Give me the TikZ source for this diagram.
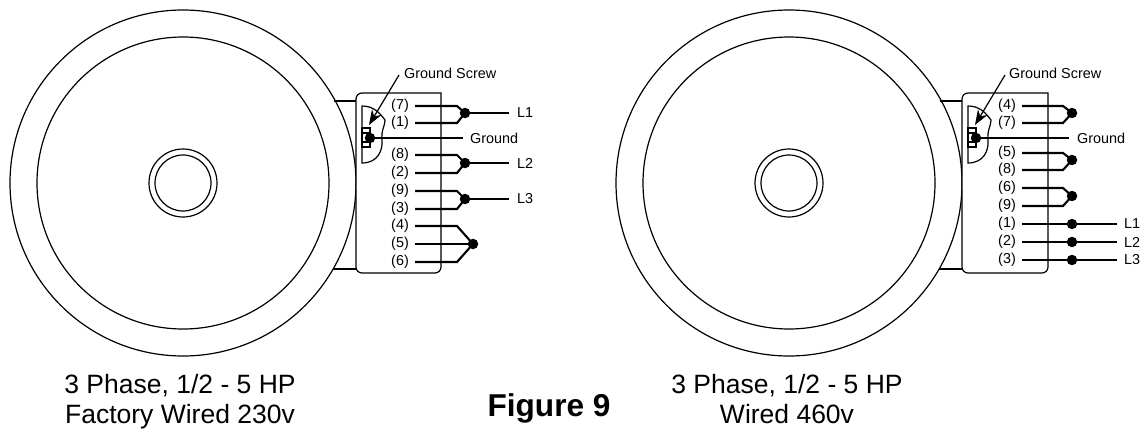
\documentclass[tikz,border=0pt]{standalone}
\usepackage{fontspec}
\setmainfont{Liberation Sans}
\usetikzlibrary{arrows.meta}
\begin{document}
\begin{tikzpicture}[x=1pt, y=-1pt,
    ring/.style={circle, draw=black, line width=1.2pt, inner sep=0pt},
    wire/.style={line width=2.1pt, black},
    thin line/.style={line width=1.2pt, black},
    dot/.style={circle, fill=black, inner sep=0pt, minimum size=10.5pt},
    num/.style={font=\fontsize{14.4}{16}\selectfont, anchor=east, inner sep=0pt},
    lab/.style={font=\fontsize{14.4}{16}\selectfont, anchor=west, inner sep=0pt},
    caption/.style={font=\fontsize{26.5}{30}\selectfont, align=center, inner sep=0pt}]
      \useasboundingbox (0,0) rectangle (1145,429);

      % left motor
      \node[ring, minimum size=346pt] (outerL) at (183,183) {};
      \node[ring, minimum size=292pt] (innerL) at (183,183) {};
      \node[ring, minimum size=68pt] (hubL) at (183,183) {};
      \node[ring, minimum size=56pt] (shaftL) at (183,183) {};

      \draw[thin line] (334,101) -- (356,101);
      \draw[thin line] (333,269) -- (356,269);
      \draw[thin line, fill=white] (441,93) [rounded corners=6pt] -- (356,93) -- (356,273) -- (441,273) [sharp corners] -- cycle;

      \draw[thin line] (362,106) .. controls (373,106) and (379,112) .. (385,120) .. controls (385,126) and (381,130) .. (382,140) .. controls (383,150) and (378,163) .. (362,163) -- cycle;
      \draw[thin line] (362,128) rectangle (370,147);
      \draw[thin line] (362,133) -- (370,133);
      \draw[thin line] (362,142) -- (370,142);

      \node[lab] (screwL) at (404,73) {Ground Screw};
      \node[lab] (gndL) at (470,138) {Ground};
      \node[dot] (g0L) at (370,138) {};
      \coordinate (g1L) at (463,138);
      \coordinate (a0L) at (399,75);
      \coordinate (a1L) at (369,125);
      \draw[thin line, -{Stealth[length=15pt, width=11pt]}] (a0L) -- (a1L);
      \draw[wire] (g0L) -- (g1L);

      \node[num] (n7L) at (409,106) {(7)};
      \node[num] (n1L) at (409,123) {(1)};
      \node[num] (n8L) at (409,155) {(8)};
      \node[num] (n2L) at (409,173) {(2)};
      \node[num] (n9L) at (409,191) {(9)};
      \node[num] (n3L) at (409,209) {(3)};
      \node[num] (n4L) at (409,226) {(4)};
      \node[num] (n5L) at (409,244) {(5)};
      \node[num] (n6L) at (409,262) {(6)};

      \node[dot] (d1L) at (465,113) {};
      \node[dot] (d2L) at (465,163) {};
      \node[dot] (d3L) at (465,199) {};
      \node[dot] (d4L) at (473,244) {};
      \node[lab] (l1L) at (517,113) {L1};
      \node[lab] (l2L) at (517,163) {L2};
      \node[lab] (l3L) at (517,199) {L3};

      \draw[wire] ([xshift=6pt]n7L.east) -- (457,106) -- (d1L.center);
      \draw[wire] ([xshift=6pt]n1L.east) -- (457,123) -- (d1L.center);
      \draw[wire] ([xshift=6pt]n8L.east) -- (457,155) -- (d2L.center);
      \draw[wire] ([xshift=6pt]n2L.east) -- (457,173) -- (d2L.center);
      \draw[wire] ([xshift=6pt]n9L.east) -- (457,191) -- (d3L.center);
      \draw[wire] ([xshift=6pt]n3L.east) -- (457,209) -- (d3L.center);
      \draw[wire] ([xshift=6pt]n4L.east) -- (457,226) -- (d4L.center);
      \draw[wire] ([xshift=6pt]n5L.east) -- (d4L.center);
      \draw[wire] ([xshift=6pt]n6L.east) -- (457,262) -- (d4L.center);
      \draw[wire] (d1L) -- ([xshift=-8pt]l1L.west);
      \draw[wire] (d2L) -- ([xshift=-8pt]l2L.west);
      \draw[wire] (d3L) -- ([xshift=-8pt]l3L.west);

      \node[caption] (capL) at (180,402) {3 Phase, 1/2 - 5 HP\\Factory Wired 230v};

      % right motor
      \node[ring, minimum size=346pt] (outerR) at (789,183) {};
      \node[ring, minimum size=292pt] (innerR) at (789,183) {};
      \node[ring, minimum size=68pt] (hubR) at (789,183) {};
      \node[ring, minimum size=56pt] (shaftR) at (789,183) {};

      \draw[thin line] (940,101) -- (962,101);
      \draw[thin line] (939,269) -- (962,269);
      \draw[thin line, fill=white] (1048,93) [rounded corners=6pt] -- (962,93) -- (962,273) -- (1048,273) [sharp corners] -- cycle;

      \draw[thin line] (968,106) .. controls (979,106) and (985,112) .. (991,120) .. controls (991,126) and (987,130) .. (988,140) .. controls (989,150) and (984,163) .. (968,163) -- cycle;
      \draw[thin line] (968,128) rectangle (976,147);
      \draw[thin line] (968,133) -- (976,133);
      \draw[thin line] (968,142) -- (976,142);

      \node[lab] (screwR) at (1009,73) {Ground Screw};
      \node[lab] (gndR) at (1077,138) {Ground};
      \node[dot] (g0R) at (976,138) {};
      \coordinate (g1R) at (1069,138);
      \coordinate (a0R) at (1005,75);
      \coordinate (a1R) at (975,125);
      \draw[thin line, -{Stealth[length=15pt, width=11pt]}] (a0R) -- (a1R);
      \draw[wire] (g0R) -- (g1R);

      \node[num] (n4R) at (1016,106) {(4)};
      \node[num] (n7R) at (1016,123) {(7)};
      \node[num] (n5R) at (1016,153) {(5)};
      \node[num] (n8R) at (1016,170) {(8)};
      \node[num] (n6R) at (1016,188) {(6)};
      \node[num] (n9R) at (1016,206) {(9)};
      \node[num] (n1R) at (1016,224) {(1)};
      \node[num] (n2R) at (1016,242) {(2)};
      \node[num] (n3R) at (1016,260) {(3)};

      \node[dot] (d1R) at (1072,113) {};
      \node[dot] (d2R) at (1072,160) {};
      \node[dot] (d3R) at (1072,196) {};
      \node[dot] (d4R) at (1072,224) {};
      \node[dot] (d5R) at (1072,242) {};
      \node[dot] (d6R) at (1072,260) {};
      \node[lab] (l1R) at (1124,224) {L1};
      \node[lab] (l2R) at (1124,242) {L2};
      \node[lab] (l3R) at (1124,260) {L3};

      \draw[wire] ([xshift=6pt]n4R.east) -- (1063,106) -- (d1R.center);
      \draw[wire] ([xshift=6pt]n7R.east) -- (1063,123) -- (d1R.center);
      \draw[wire] ([xshift=6pt]n5R.east) -- (1063,153) -- (d2R.center);
      \draw[wire] ([xshift=6pt]n8R.east) -- (1063,170) -- (d2R.center);
      \draw[wire] ([xshift=6pt]n6R.east) -- (1063,188) -- (d3R.center);
      \draw[wire] ([xshift=6pt]n9R.east) -- (1063,206) -- (d3R.center);
      \draw[wire] ([xshift=6pt]n1R.east) -- ([xshift=-7pt]l1R.west);
      \draw[wire] ([xshift=6pt]n2R.east) -- ([xshift=-7pt]l2R.west);
      \draw[wire] ([xshift=6pt]n3R.east) -- ([xshift=-7pt]l3R.west);

      \node[caption] (capR) at (787,399) {3 Phase, 1/2 - 5 HP\\Wired 460v};

      \node[font=\fontsize{31.6}{34}\selectfont\bfseries, inner sep=0pt] (fig) at (549,408) {Figure 9};

      \end{tikzpicture}
\end{document}
